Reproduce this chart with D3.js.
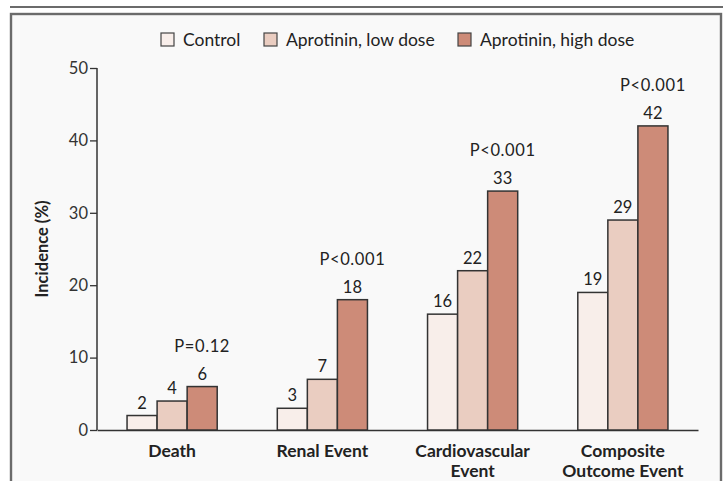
<!DOCTYPE html>
<html><head><meta charset="utf-8">
<script src="https://cdn.jsdelivr.net/npm/d3@7"></script>
<style>
html,body{margin:0;padding:0;background:#fff;}
svg{display:block;font-family:"Lato","Open Sans",sans-serif;}
</style></head>
<body>
<svg id="c" width="723" height="481"></svg>
<script>
const categories = [["Death"], ["Renal Event"], ["Cardiovascular", "Event"], ["Composite", "Outcome Event"]];
const seriesNames = ["Control", "Aprotinin, low dose", "Aprotinin, high dose"];
const control = [2, 3, 16, 19];
const lowDose = [4, 7, 22, 29];
const highDose = [6, 18, 33, 42];
const pValues = ["P=0.12", "P<0.001", "P<0.001", "P<0.001"];
const yTicks = [0, 10, 20, 30, 40, 50];
const colors = ["#f8eeea", "#eacdc1", "#cd8b78"];

const svg = d3.select("#c");
// top rule and frame
svg.append("line").attr("x1", 10).attr("x2", 723).attr("y1", 7).attr("y2", 7)
  .attr("stroke", "#6b6b6b").attr("stroke-width", 2);
svg.append("rect").attr("x", 11).attr("y", 14).attr("width", 710).attr("height", 480)
  .attr("fill", "#f9f9f9").attr("stroke", "#6b6b6b").attr("stroke-width", 2.4);

const series = [control, lowDose, highDose];
const y = d3.scaleLinear().domain([0, 50]).range([430, 68]);
const x0 = d3.scaleBand().domain(d3.range(categories.length)).range([97, 698])
  .paddingInner(0.4).paddingOuter(0.2);
const x1 = d3.scaleBand().domain(d3.range(series.length)).range([0, x0.bandwidth()]);

// y axis
const yAxis = d3.axisLeft(y).tickValues(yTicks).tickSize(7).tickPadding(2);
const ga = svg.append("g").attr("transform", "translate(97,0)").call(yAxis);
ga.select(".domain").attr("stroke", "#333").attr("stroke-width", 1.5).attr("d", "M0,68V430");
ga.selectAll(".tick line").attr("stroke", "#333").attr("stroke-width", 1.3);
ga.selectAll(".tick text").attr("font-size", 16.5).attr("fill", "#333")
  .attr("font-family", "Lato, sans-serif");

// x axis baseline
const xAxis = d3.axisBottom(x0).tickSize(0).tickFormat("");
const gx = svg.append("g").attr("transform", "translate(0,430)").call(xAxis);
gx.select(".domain").attr("stroke", "#333").attr("stroke-width", 1.5);

// bars
const groups = svg.append("g").selectAll("g").data(categories).join("g")
  .attr("transform", (d, i) => `translate(${x0(i)},0)`);
groups.each(function(d, i) {
  const g = d3.select(this);
  series.forEach((s, j) => {
    g.append("rect").attr("x", x1(j)).attr("width", x1.bandwidth())
      .attr("y", y(s[i])).attr("height", y(0) - y(s[i]))
      .attr("fill", colors[j]).attr("stroke", "#333").attr("stroke-width", 1.5);
    g.append("text").attr("x", x1(j) + x1.bandwidth() / 2).attr("y", y(s[i]) - 7)
      .attr("text-anchor", "middle").attr("font-size", 16.5).attr("fill", "#222")
      .text(s[i]);
  });
  g.append("text").attr("x", x1(2) + x1.bandwidth() / 2).attr("y", y(highDose[i]) - 35)
    .attr("text-anchor", "middle").attr("font-size", 16.5).attr("fill", "#222")
    .attr("letter-spacing", 0.6)
    .text(pValues[i]);
});

// category labels
categories.forEach((lines, i) => {
  const t = svg.append("text").attr("x", x0(i) + x0.bandwidth() / 2).attr("y", 457)
    .attr("text-anchor", "middle").attr("font-size", 17.5).attr("font-weight", "bold")
    .attr("fill", "#222");
  lines.forEach((l, k) => t.append("tspan").attr("x", x0(i) + x0.bandwidth() / 2)
    .attr("dy", k === 0 ? 0 : 20).text(l));
});

// y title
svg.append("text").attr("transform", "translate(48,249) rotate(-90)")
  .attr("text-anchor", "middle").attr("font-size", 16.5).attr("font-weight", "bold")
  .attr("fill", "#222").text("Incidence (%)");

// legend
const legendX = [161, 264, 458];
seriesNames.forEach((n, j) => {
  svg.append("rect").attr("x", legendX[j]).attr("y", 33).attr("width", 13).attr("height", 13)
    .attr("fill", colors[j]).attr("stroke", "#444").attr("stroke-width", 1.2);
  svg.append("text").attr("x", legendX[j] + 22).attr("y", 46)
    .attr("font-size", 17.5).attr("fill", "#222").text(n);
});
</script>
</body></html>
